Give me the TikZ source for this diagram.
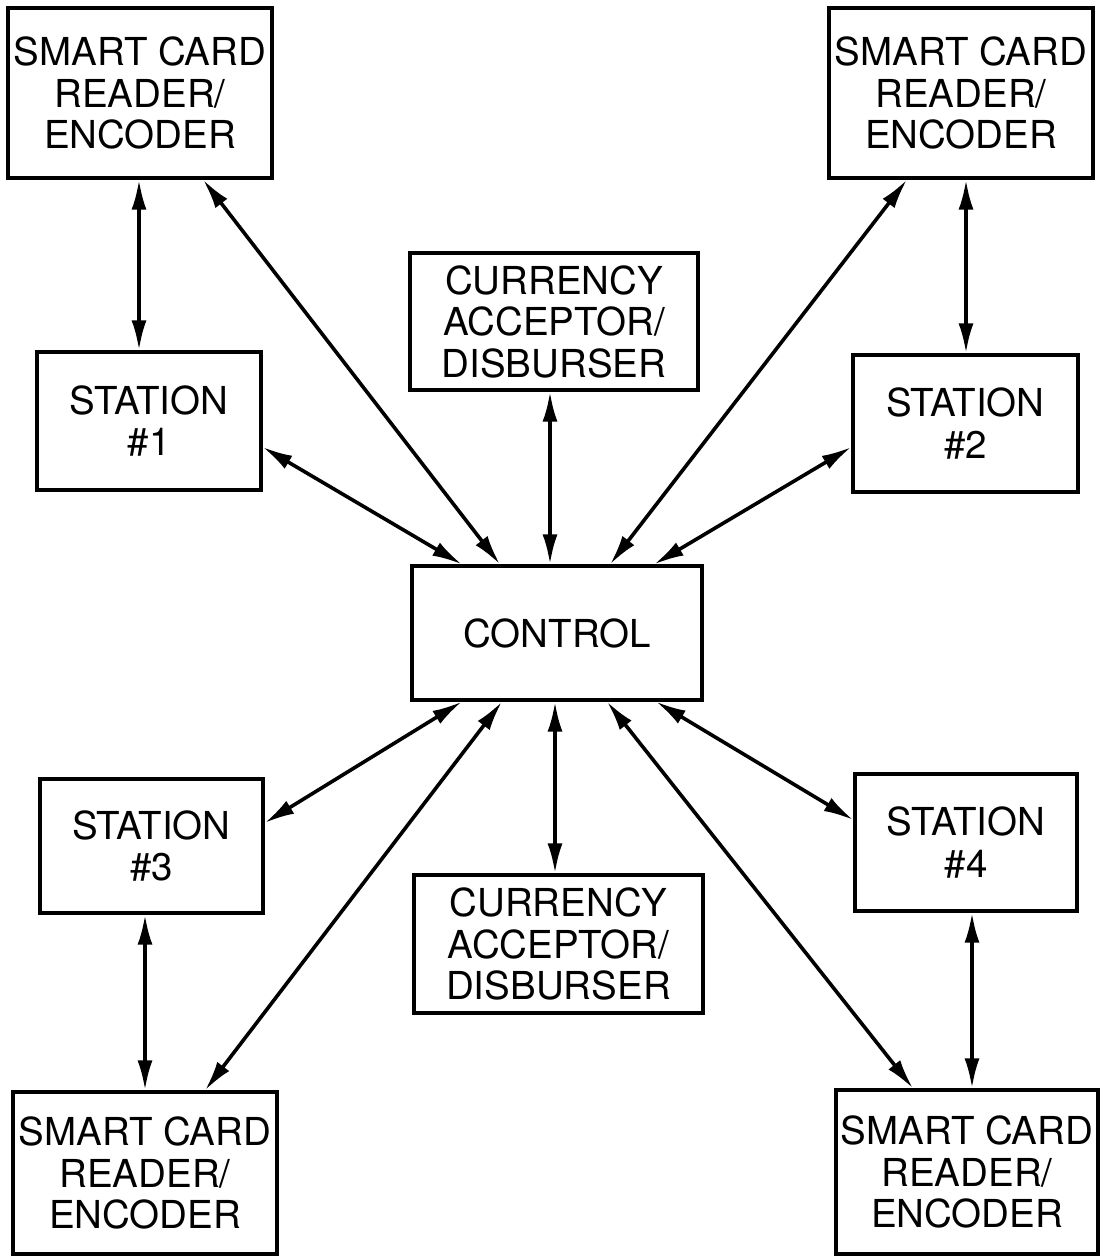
\documentclass[tikz,border=0pt]{standalone}
\usepackage{fontspec}
\setmainfont{TeX Gyre Heros}
\usetikzlibrary{arrows.meta}
\tikzset{
  box/.style={draw, line width=3.2pt, align=center, inner sep=0pt, fill=white,
    font=\fontsize{38.5}{41.5}\selectfont},
  link/.style={line width=3.6pt,
    {Latex[length=30pt,width=15pt]}-{Latex[length=30pt,width=15pt]}}
}
\begin{document}
\begin{tikzpicture}[x=1pt,y=-1pt]
\useasboundingbox (0,0) rectangle (1105,1258);
% boxes
\node[box, minimum width=264pt, minimum height=170pt] (sc1) at (140,93) {SMART CARD\\READER/\\ENCODER};
\node[box, minimum width=264pt, minimum height=170pt] (sc2) at (961,93) {SMART CARD\\READER/\\ENCODER};
\node[box, minimum width=288pt, minimum height=137pt] (curt) at (554,321.5) {CURRENCY\\ACCEPTOR/\\DISBURSER};
\node[box, minimum width=224pt, minimum height=138pt] (st1) at (149,421) {STATION\\\#1};
\node[box, minimum width=225pt, minimum height=137pt] (st2) at (965.5,423.5) {STATION\\\#2};
\node[box, minimum width=290pt, minimum height=134pt] (ctrl) at (557,633) {CONTROL};
\node[box, minimum width=223pt, minimum height=134pt] (st3) at (151.5,846) {STATION\\\#3};
\node[box, minimum width=222pt, minimum height=137pt] (st4) at (966,842.5) {STATION\\\#4};
\node[box, minimum width=289pt, minimum height=138pt] (curb) at (558.5,944) {CURRENCY\\ACCEPTOR/\\DISBURSER};
\node[box, minimum width=264pt, minimum height=162pt] (sc3) at (145,1173) {SMART CARD\\READER/\\ENCODER};
\node[box, minimum width=262pt, minimum height=164pt] (sc4) at (967,1172) {SMART CARD\\READER/\\ENCODER};
% connectors
\draw[link] ([xshift=-1pt]sc1.south) -- ([xshift=-10pt]st1.north);
\draw[link] ([xshift=63pt]sc1.south) -- ([xshift=-57pt]ctrl.north);
\draw[link] ([yshift=-26pt]st1.east) -- ([xshift=-95pt]ctrl.north);
\draw[link] ([xshift=-4pt]curt.south) -- ([xshift=-7pt]ctrl.north);
\draw[link] ([xshift=-54pt]sc2.south) -- ([xshift=53pt]ctrl.north);
\draw[link] ([yshift=-23.5pt]st2.west) -- ([xshift=97pt]ctrl.north);
\draw[link] ([xshift=5pt]sc2.south) -- ([xshift=0.5pt]st2.north);
\draw[link] ([xshift=-95pt]ctrl.south) -- ([yshift=23pt]st3.east);
\draw[link] ([xshift=-55pt]ctrl.south) -- ([xshift=60pt]sc3.north);
\draw[link] ([xshift=-2pt]ctrl.south) -- ([xshift=-3.5pt]curb.north);
\draw[link] ([xshift=50pt]ctrl.south) -- ([xshift=-54pt]sc4.north);
\draw[link] ([xshift=99pt]ctrl.south) -- ([yshift=22.5pt]st4.west);
\draw[link] ([xshift=-6.5pt]st3.south) -- ([xshift=0pt]sc3.north);
\draw[link] ([xshift=6pt]st4.south) -- ([xshift=5pt]sc4.north);
\end{tikzpicture}
\end{document}
